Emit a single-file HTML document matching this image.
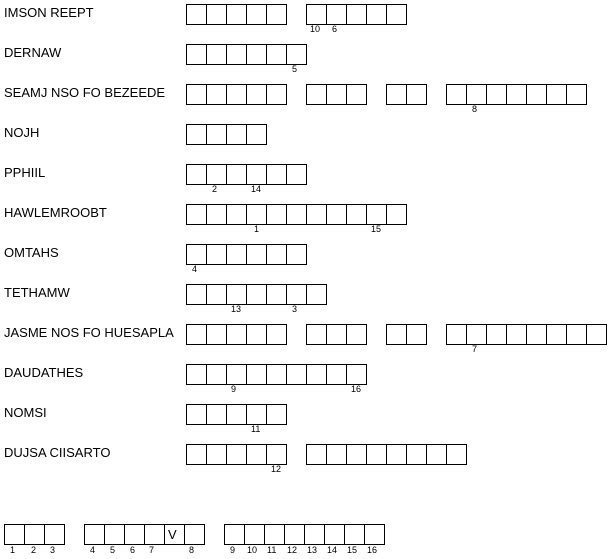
<!DOCTYPE html>
<html><head><meta charset="utf-8"><style>
html,body{margin:0;padding:0;background:#fff;}
svg{display:block;}
text{font-family:"Liberation Sans",Arial,sans-serif;fill:#000;}
.l{font-size:13px;}
.n{font-size:9px;}
</style></head><body>
<svg width="614" height="559" viewBox="0 0 614 559" xmlns="http://www.w3.org/2000/svg" id="s">
<g fill="none" stroke="#000" stroke-width="1" id="b"></g>
<g id="t"></g>
</svg>
<script>
var rows=[
["IMSON REEPT",[[186,5],[306,5]],[[10,310],[6,332]]],
["DERNAW",[[186,6]],[[5,292]]],
["SEAMJ NSO FO BEZEEDE",[[186,5],[306,3],[386,2],[446,7]],[[8,472]]],
["NOJH",[[186,4]],[]],
["PPHIIL",[[186,6]],[[2,212],[14,251]]],
["HAWLEMROOBT",[[186,11]],[[1,254],[15,371]]],
["OMTAHS",[[186,6]],[[4,192]]],
["TETHAMW",[[186,7]],[[13,231],[3,292]]],
["JASME NOS FO HUESAPLA",[[186,5],[306,3],[386,2],[446,8]],[[7,472]]],
["DAUDATHES",[[186,9]],[[9,231],[16,351]]],
["NOMSI",[[186,5]],[[11,251]]],
["DUJSA CIISARTO",[[186,5],[306,8]],[[12,271]]]
];
var b=document.getElementById('b'),t=document.getElementById('t'),ns="http://www.w3.org/2000/svg";
function rect(x,y,w,h){var r=document.createElementNS(ns,'rect');r.setAttribute('x',x+.5);r.setAttribute('y',y+.5);r.setAttribute('width',w);r.setAttribute('height',h);b.appendChild(r);}
function txt(x,y,s,c){var e=document.createElementNS(ns,'text');e.setAttribute('x',x);e.setAttribute('y',y);e.setAttribute('class',c);e.textContent=s;t.appendChild(e);}
rows.forEach(function(r,i){var top=4+40*i;txt(4,top+13,r[0],'l');
r[1].forEach(function(g){for(var k=0;k<g[1];k++)rect(g[0]+20*k,top,20,20);});
r[2].forEach(function(n){txt(n[1],top+28,String(n[0]),'n');});});
[[4,3],[84,6],[224,8]].forEach(function(g){for(var k=0;k<g[1];k++)rect(g[0]+20*k,524,20,20);});
[[1,10],[2,31],[3,50],[4,90],[5,110],[6,130],[7,149],[8,189],[9,230],[10,247],[11,267],[12,287],[13,307],[14,327],[15,347],[16,367]].forEach(function(n){txt(n[1],553,String(n[0]),'n');});
txt(168,539,"V",'l');
</script>
</body></html>
